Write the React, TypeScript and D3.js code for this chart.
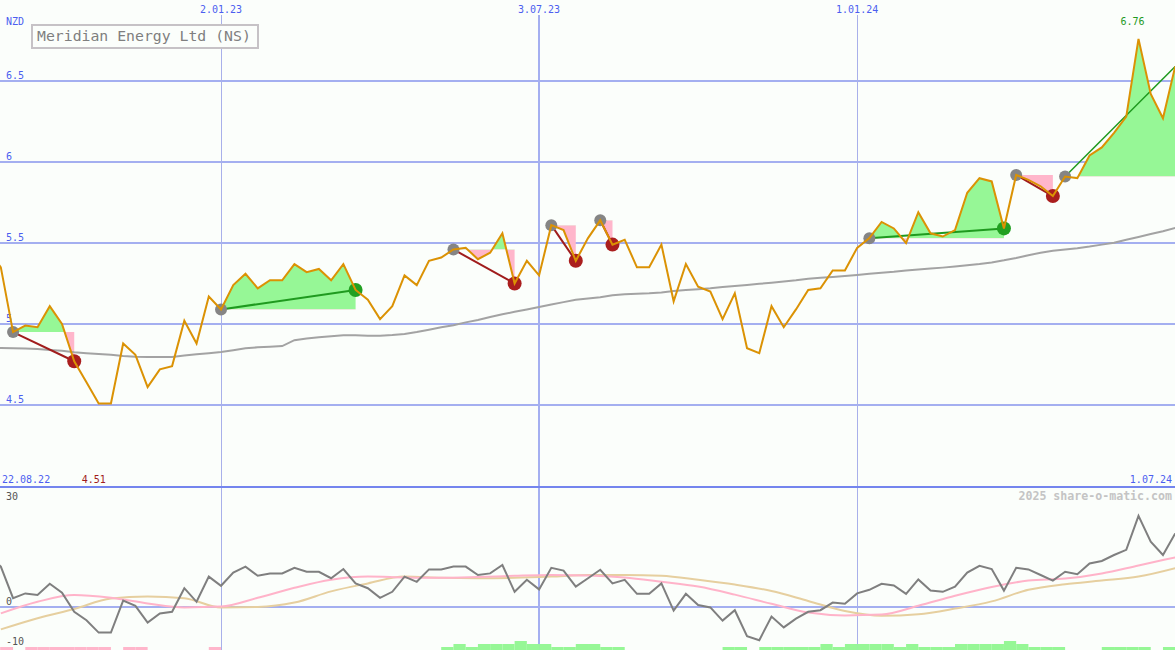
import * as d3 from "d3";

// weekly closes, 22.08.22 .. 1.07.24
const startDate = new Date(2022, 7, 22);
const endDate = new Date(2024, 6, 1);

const price = [
  5.45, 5.35, 4.95, 4.99, 4.98, 5.11, 5.0, 4.77, 4.64, 4.51,
  4.51, 4.88, 4.81, 4.61, 4.72, 4.74, 5.02, 4.88, 5.17, 5.09,
  5.24, 5.31, 5.22, 5.27, 5.27, 5.37, 5.32, 5.34, 5.27, 5.37,
  5.21, 5.15, 5.03, 5.11, 5.3, 5.24, 5.39, 5.41, 5.46, 5.47,
  5.4, 5.44, 5.56, 5.25, 5.39, 5.3, 5.61, 5.58, 5.39, 5.53,
  5.64, 5.49, 5.52, 5.35, 5.35, 5.49, 5.14, 5.37, 5.23, 5.2,
  5.03, 5.19, 4.85, 4.82, 5.11, 4.98, 5.09, 5.21, 5.22, 5.33,
  5.33, 5.47, 5.53, 5.63, 5.59, 5.5, 5.69, 5.56, 5.54, 5.58,
  5.81, 5.9, 5.88, 5.59, 5.92, 5.89, 5.85, 5.79, 5.91, 5.9,
  6.04, 6.09, 6.18, 6.28, 6.76, 6.42, 6.27, 6.59,
];

// long moving average (grey)
const avg = [
  4.855, 4.852, 4.85, 4.848, 4.845, 4.84, 4.835, 4.826, 4.82, 4.815,
  4.81, 4.803, 4.798, 4.796, 4.796, 4.797, 4.805, 4.813, 4.82, 4.827,
  4.838, 4.85, 4.856, 4.86, 4.864, 4.9, 4.91, 4.918, 4.925, 4.93,
  4.93, 4.928, 4.928, 4.932, 4.938, 4.95, 4.965, 4.98, 4.992, 5.01,
  5.025, 5.043, 5.06, 5.075, 5.09, 5.105, 5.12, 5.135, 5.15, 5.158,
  5.165, 5.178, 5.183, 5.187, 5.19, 5.195, 5.203, 5.21, 5.215, 5.22,
  5.228, 5.235, 5.241, 5.248, 5.255, 5.262, 5.27, 5.28, 5.285, 5.29,
  5.296, 5.303, 5.31, 5.316, 5.322, 5.33, 5.336, 5.342, 5.348, 5.355,
  5.362, 5.37, 5.38, 5.393, 5.408, 5.425, 5.44, 5.452, 5.46, 5.468,
  5.478, 5.49, 5.502, 5.52, 5.537, 5.555, 5.573, 5.593,
];

// momentum oscillator (lower panel)
const osc = [
  13, 10.1, 2.2, 3.4, 3.0, 5.8, 3.6, -1.2, -3.3, -6.4,
  -6.4, 1.6, 0.3, -3.9, -1.6, -1.2, 4.7, 1.3, 7.6, 5.3,
  8.6, 10.1, 7.8, 8.4, 8.4, 9.8, 8.8, 8.8, 7.2, 9.5,
  5.9, 4.7, 2.3, 3.8, 7.6, 6.3, 9.4, 9.4, 10.1, 10.1,
  8.0, 8.4, 10.5, 3.8, 6.8, 4.4, 9.8, 9.1, 5.1, 7.2,
  9.3, 5.9, 6.8, 3.3, 3.3, 5.9, -0.9, 3.3, 0.5, -0.1,
  -3.4, -0.8, -7.3, -8.3, -2.4, -5.1, -2.9, -1.2, -0.8, 1.1,
  0.8, 3.4, 4.3, 5.8, 5.4, 3.3, 6.9, 4.1, 3.8, 5.1,
  8.6, 10.3, 9.5, 4.1, 9.8, 9.4, 8.0, 6.6, 8.8, 8.2,
  10.9, 11.5, 13.0, 14.3, 22.8, 16.3, 13.0, 18.4,
];

// smoothed signal lines, read every third week starting at week 1
const oscPink = [
  -1.6, 1.3, 3.0, 2.3, 0.9, -0.1, 0.1, 2.3, 4.8, 6.8, 7.6,
  7.4, 7.3, 7.5, 7.8, 8.0, 7.9, 7.4, 6.3, 5.1, 3.1, 0.8,
  -1.4, -2.1, -1.9, 0.3, 2.8, 5.0, 6.6, 7.1, 8.4, 10.4, 12.4,
];
const oscTan = [
  -5.6, -2.8, -0.5, 2.1, 2.6, 2.2, -0.1, 0.0, 1.1, 3.9, 5.9,
  7.6, 7.3, 7.2, 7.3, 7.6, 8.0, 8.0, 7.8, 6.8, 5.6, 4.0,
  1.5, -1.0, -2.2, -1.8, -0.4, 1.4, 4.3, 5.7, 6.6, 7.6, 9.7,
];

// strength bars along the bottom
const hist = [
  -1, -1, 0, -1, -1, -1, -1, -1, -1, -1,
  0, -1, -1, 0, 0, 0, 0, 0, -1, 0,
  0, 0, 0, 0, 0, 0, 0, 0, 0, 0,
  0, 0, 0, 0, 0, 0, 0, 1, 2, 1,
  2, 2, 2, 3, 2, 2, 1, 1, 2, 2,
  1, 1, 0, 0, 0, 0, 0, 0, 0, 0,
  1, 1, 0, 1, 1, 1, 1, 1, 2, 1,
  2, 2, 2, 2, 1, 2, 1, 1, 1, 2,
  2, 2, 2, 3, 2, 1, 1, 1, 0, 0,
  0, 1, 1, 1, 1, 0, 1, 0,
];

// trade signals (week index of entry / exit)
const sigStart = [2, 19, 38, 46, 50, 72, 84, 88];
const sigEnd = [7, 30, 43, 48, 51, 83, 87, 97];
const sigKind = ["sell", "buy", "sell", "sell", "sell", "buy", "sell", "open"];

const dateTicks = [new Date(2023, 0, 2), new Date(2023, 6, 3), new Date(2024, 0, 1)];
const dateLabels = ["2.01.23", "3.07.23", "1.01.24"];
const dateTickWidth = [1, 2, 1];
const priceTicks = [6.5, 6, 5.5, 5, 4.5];
const priceTickLabels = ["6.5", "6", "5.5", "5", "4.5"];
const oscTicks = [30, 0, -10];

const W = 1175;
const H = 650;
const mono = "'DejaVu Sans Mono', monospace";
const blue = "#4c5ef0";
const gridCol = "#a4aff0";

const weekDate = (i: number) => d3.timeDay.offset(startDate, 7 * i);

export default function App() {
  const x = d3.scaleTime().domain([startDate, endDate]).range([-11.4, 1175.2]);
  const yP = d3.scaleLinear().domain([4, 7]).range([486, 0]);
  const yO = d3.scaleLinear().domain([-10, 30]).range([647, 487]);
  const yH = d3.scaleLinear().domain([0, 3]).range([650, 641]);

  const idx = price.map((_, i) => i);
  const px = (i: number) => x(weekDate(i));

  const priceLine = d3.line<number>().x(px).y((i) => yP(price[i]));
  const avgLine = d3.line<number>().x(px).y((i) => yP(avg[i]));
  const oscLine = d3.line<number>().x(px).y((i) => yO(osc[i]));
  const smoothLine = (vals: number[]) =>
    d3
      .line<number>()
      .x((_, k) => px(1 + 3 * k))
      .y((v) => yO(v))
      .curve(d3.curveMonotoneX)(vals);

  const lo = d3.minIndex(price);
  const hi = d3.maxIndex(price);

  return (
    <svg
      width={W}
      height={H}
      style={{ position: "absolute", left: 0, top: 0, background: "#fbfefb" }}
    >
      <defs>
        {sigStart.map((s, k) => {
          const ly = yP(price[s]);
          return (
            <g key={k}>
              <clipPath id={`up${k}`}>
                <rect x={0} y={0} width={W} height={ly} />
              </clipPath>
              <clipPath id={`dn${k}`}>
                <rect x={0} y={ly} width={W} height={486 - ly} />
              </clipPath>
            </g>
          );
        })}
      </defs>

      {/* price grid */}
      {priceTicks.map((t) => (
        <line key={t} x1={0} x2={W} y1={yP(t)} y2={yP(t)} stroke={gridCol} strokeWidth={2} />
      ))}
      {dateTicks.map((d, k) => (
        <line
          key={k}
          x1={Math.round(x(d)) + (dateTickWidth[k] === 1 ? 0.5 : 0)}
          x2={Math.round(x(d)) + (dateTickWidth[k] === 1 ? 0.5 : 0)}
          y1={15}
          y2={H}
          stroke={dateTickWidth[k] === 1 ? "#a8b0ea" : gridCol}
          strokeWidth={dateTickWidth[k]}
        />
      ))}

      {/* signal areas */}
      {sigStart.map((s, k) => {
        const e = sigEnd[k];
        const ids = d3.range(s, e + 1);
        const ar = d3
          .area<number>()
          .x(px)
          .y0(yP(price[s]))
          .y1((i) => yP(price[i]))(ids);
        return (
          <g key={k}>
            <path d={ar || ""} fill="#96f796" clipPath={`url(#up${k})`} />
            <path d={ar || ""} fill="#ffb6cb" clipPath={`url(#dn${k})`} />
          </g>
        );
      })}

      <path d={avgLine(idx) || ""} fill="none" stroke="#a3a3a3" strokeWidth={2} />

      {priceTicks.map((t, k) => (
        <text key={t} x={6} y={yP(t) - 2} fontFamily={mono} fontSize={10} fill={blue}>
          {priceTickLabels[k]}
        </text>
      ))}

      {/* signal trend lines */}
      {sigStart.map((s, k) => {
        const e = sigEnd[k];
        const col = sigKind[k] === "sell" ? "#a01c1c" : "#1f9a1f";
        return (
          <line
            key={k}
            x1={px(s)}
            y1={yP(price[s])}
            x2={px(e)}
            y2={yP(price[e])}
            stroke={col}
            strokeWidth={sigKind[k] === "open" ? 1.5 : 2}
          />
        );
      })}
      {sigStart.map((s, k) => (
        <circle key={`s${k}`} cx={px(s)} cy={yP(price[s])} r={6} fill="#858585" />
      ))}
      {sigEnd.map((e, k) =>
        sigKind[k] === "open" ? null : (
          <circle
            key={`e${k}`}
            cx={px(e)}
            cy={yP(price[e])}
            r={7}
            fill={sigKind[k] === "sell" ? "#aa1e1e" : "#22a022"}
          />
        )
      )}

      <path d={priceLine(idx) || ""} fill="none" stroke="#db9204" strokeWidth={2} />

      {/* labels */}
      <text x={6} y={25} fontFamily={mono} fontSize={10} fill={blue}>NZD</text>
      {dateTicks.map((d, k) => (
        <text key={k} x={x(d)} y={13} textAnchor="middle" fontFamily={mono} fontSize={10} fill={blue}>
          {dateLabels[k]}
        </text>
      ))}
      <rect x={32} y={25} width={226} height={23} fill="#fbfefb" stroke="#c6c2c6" strokeWidth={2} />
      <text x={37} y={41} fontFamily={mono} fontSize={14.8} fill="#7f7f7f">
        Meridian Energy Ltd (NS)
      </text>
      <text x={px(hi) - 6} y={25} textAnchor="middle" fontFamily={mono} fontSize={10} fill="#1f9a1f">
        {price[hi].toFixed(2)}
      </text>
      <text x={2} y={483} fontFamily={mono} fontSize={10} fill={blue}>22.08.22</text>
      <text x={px(lo) - 5} y={483} textAnchor="middle" fontFamily={mono} fontSize={10} fill="#a01c1c">
        {price[lo].toFixed(2)}
      </text>
      <text x={1172} y={483} textAnchor="end" fontFamily={mono} fontSize={10} fill={blue}>1.07.24</text>

      {/* lower panel */}
      <line x1={0} x2={W} y1={487} y2={487} stroke="#7485ee" strokeWidth={2} />
      <line x1={0} x2={W} y1={yO(0)} y2={yO(0)} stroke={gridCol} strokeWidth={2} />
      {hist.map((h, i) =>
        h === 0 ? null : (
          <rect
            key={i}
            x={px(i)}
            width={px(i + 1) - px(i)}
            y={h > 0 ? yH(h) : yH(1)}
            height={h > 0 ? H - yH(h) : H - yH(1)}
            fill={h > 0 ? "#96f796" : "#ffb6cb"}
          />
        )
      )}
      <path d={smoothLine(oscTan) || ""} fill="none" stroke="#e6cf9f" strokeWidth={2} />
      <path d={smoothLine(oscPink) || ""} fill="none" stroke="#ffb3c9" strokeWidth={2} />
      <path d={oscLine(idx) || ""} fill="none" stroke="#7f7f7f" strokeWidth={2} />
      {oscTicks.map((t) => (
        <text
          key={t}
          x={6}
          y={t === 30 ? yO(t) + 13 : yO(t) - 2}
          fontFamily={mono}
          fontSize={10}
          fill="#555"
        >
          {t}
        </text>
      ))}
      <text x={1172} y={500} textAnchor="end" fontFamily={mono} fontSize={11.6} fontWeight="bold" fill="#c4c4c4">
        2025 share-o-matic.com
      </text>
    </svg>
  );
}
